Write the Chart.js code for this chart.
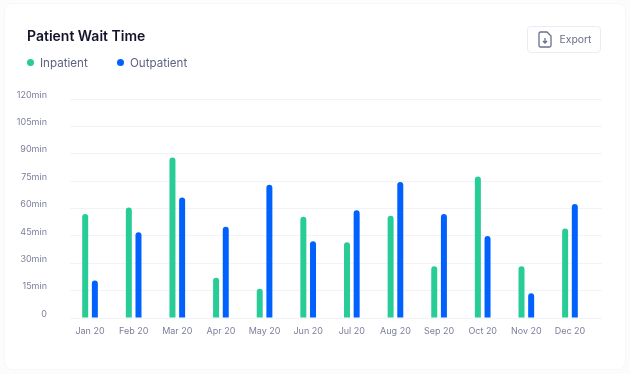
<!DOCTYPE html>
<html>
<head>
<meta charset="utf-8">
<script src="https://cdn.jsdelivr.net/npm/chart.js@4"></script>
<style>
  html, body { margin: 0; padding: 0; background: #fcfcfd; }
  body { width: 630px; height: 374px; overflow: hidden; position: relative; font-family: Inter, sans-serif; }
  #card { position: absolute; left: 4px; top: 3px; width: 620px; height: 365px; background: #fff; border: 1px solid #f6f7f9; border-radius: 8px; }
  #chart { position: absolute; left: 0; top: 0; }
  #title { position: absolute; left: 27px; top: 27px; font-size: 14px; font-weight: 600; color: #13132b; }
  .leg { position: absolute; top: 56px; font-size: 11.6px; color: #5f6382; }
  .leg i { position: absolute; left: -13.5px; top: 2.5px; width: 7.5px; height: 7.5px; border-radius: 50%; }
  #export { position: absolute; left: 527px; top: 26px; width: 72px; height: 25px; border: 1px solid #e9ecf3; border-radius: 4px; background: #fff; color: #6b6f8c; font-size: 10.4px; line-height: 25px; }
  #export span { position: absolute; left: 31.5px; }
  #export svg { position: absolute; left: 10px; top: 4px; }
</style>
</head>
<body>
<div id="card"></div>
<canvas id="chart" width="630" height="374"></canvas>
<div id="title">Patient Wait Time</div>
<div class="leg" style="left:40px"><i style="background:#28cc96"></i>Inpatient</div>
<div class="leg" style="left:130px"><i style="background:#0061ff"></i>Outpatient</div>
<div id="export">
  <svg width="14" height="17" viewBox="0 0 14 17" fill="none" stroke="#6b6f8c" stroke-width="1.3">
    <path d="M2.5 1H9l4 4v9.5a1.5 1.5 0 0 1-1.5 1.5h-9A1.5 1.5 0 0 1 1 14.5v-12A1.5 1.5 0 0 1 2.5 1z"/>
    <path d="M7 7v5M5 10l2 2 2-2"/>
  </svg>
  <span>Export</span>
</div>
<script>
const months = ["Jan 20", "Feb 20", "Mar 20", "Apr 20", "May 20", "Jun 20", "Jul 20", "Aug 20", "Sep 20", "Oct 20", "Nov 20", "Dec 20"];
const inpatient = [57, 60.5, 88, 22, 16, 55.5, 41.5, 56, 28.3, 77.5, 28.3, 49];
const outpatient = [20.5, 47, 66, 50, 73, 42, 59, 74.5, 57, 45, 13.5, 62.5];
const yTicks = [0, 15, 30, 45, 60, 75, 90, 105, 120];

function points(values) {
    return values.map((v, i) => ({ x: i, y: v }));
}

const textColor = "#7b7f9c";
const gridColor = "#f1f3f8";
const topRound = { topLeft: 3, topRight: 3, bottomLeft: 0, bottomRight: 0 };

new Chart(document.getElementById("chart").getContext("2d"), {
    type: "bar",
    data: {
        datasets: [
            { label: "Inpatient", data: points(inpatient), backgroundColor: "#28cc96", borderRadius: topRound, borderSkipped: false },
            { label: "Outpatient", data: points(outpatient), backgroundColor: "#0061ff", borderRadius: topRound, borderSkipped: false }
        ]
    },
    options: {
        responsive: false,
        animation: false,
        categoryPercentage: 0.443,
        barPercentage: 0.62,
        layout: { padding: { top: 99, right: 28, bottom: 0, left: 0 } },
        plugins: { legend: { display: false }, tooltip: { enabled: false } },
        scales: {
            x: {
                type: "linear",
                offset: false,
                min: -0.459,
                max: 11.734,
                afterBuildTicks: scale => { scale.ticks = months.map((m, i) => ({ value: i })); },
                afterFit: scale => { scale.height = 56; },
                grid: { display: false },
                border: { display: false },
                ticks: {
                    autoSkip: false,
                    maxRotation: 0,
                    padding: 0,
                    color: textColor,
                    font: { family: "Inter", size: 9 },
                    callback: value => months[value]
                }
            },
            y: {
                min: 0,
                max: 120,
                afterBuildTicks: scale => { scale.ticks = yTicks.map(v => ({ value: v })); },
                afterFit: scale => { scale.width = 70; },
                grid: { color: gridColor, drawTicks: false },
                border: { display: false },
                ticks: {
                    padding: 23,
                    labelOffset: -4,
                    color: textColor,
                    font: { family: "Inter", size: 9 },
                    callback: value => value === 0 ? "0" : value + "min"
                }
            }
        }
    }
});
</script>
</body>
</html>
